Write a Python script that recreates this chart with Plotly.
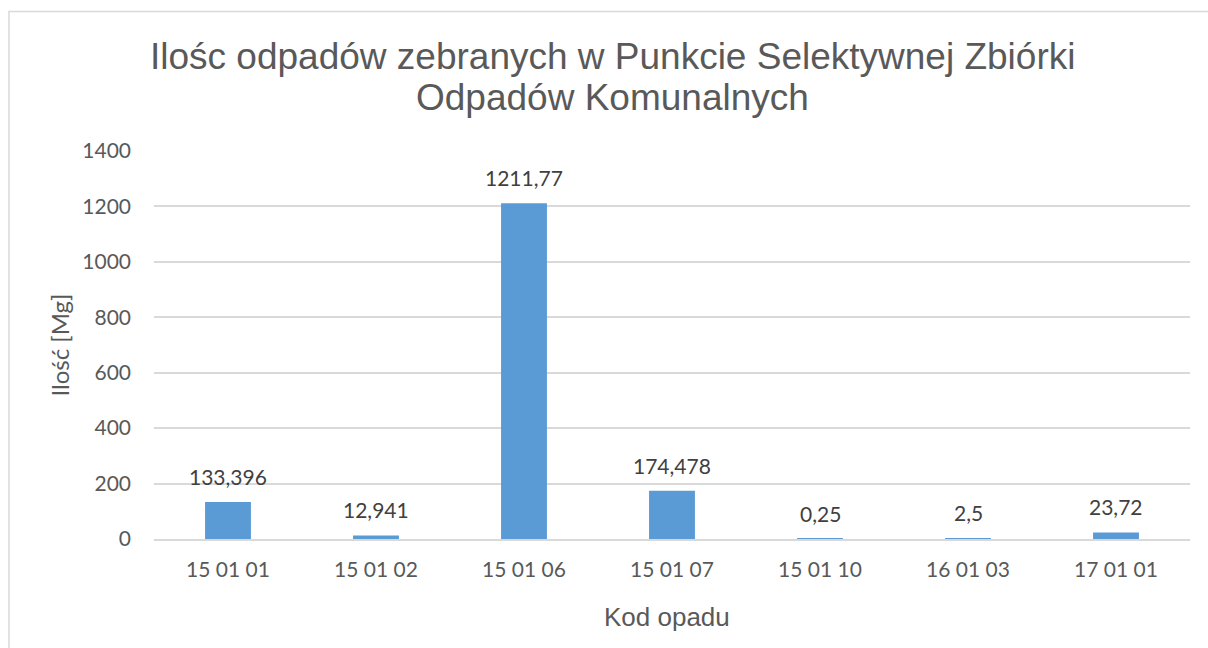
import plotly.graph_objects as go

categories = ["15 01 01", "15 01 02", "15 01 06", "15 01 07", "15 01 10", "16 01 03", "17 01 01"]
values = [133.396, 12.941, 1211.77, 174.478, 0.25, 2.5, 23.72]
labels = [str(v).replace(".", ",") for v in values]
y_ticks = [0, 200, 400, 600, 800, 1000, 1200, 1400]
title_lines = ["Ilośc odpadów zebranych w Punkcie Selektywnej Zbiórki", "Odpadów Komunalnych"]
x_title = "Kod opadu"
y_title = "Ilość [Mg]"

W, H = 1208, 648
L, R, T, B = 154, 18, 151, 109
pw, ph = W - L - R, H - T - B
plot_bottom = H - B

fig = go.Figure()
fig.add_trace(go.Bar(
    x=categories, y=values,
    marker=dict(color="#5b9bd5", line=dict(width=0)),
    hoverinfo="x+y",
))

for c, v, t in zip(categories, values, labels):
    fig.add_annotation(x=c, y=v, text=t, showarrow=False, yanchor="bottom", yshift=11,
                       font=dict(family="Lato, Open Sans, sans-serif", size=21, color="#404040"))

title_font = dict(family="Liberation Sans, Arial, sans-serif", size=37, color="#595959")
for line, fy in zip(title_lines, [56, 97]):
    fig.add_annotation(xref="paper", yref="paper", x=(612.5 - L) / pw, y=(plot_bottom - fy) / ph,
                       text=line, showarrow=False, xanchor="center", yanchor="middle", font=title_font)

fig.add_annotation(xref="paper", yref="paper", x=(667 - L) / pw, y=(plot_bottom - 617) / ph,
                   text=x_title, showarrow=False, xanchor="center", yanchor="middle",
                   font=dict(family="Liberation Sans, Arial, sans-serif", size=26, color="#595959"))

fig.add_shape(type="rect", xref="paper", yref="paper",
              x0=(9 - L) / pw, x1=(1220 - L) / pw,
              y0=-0.5, y1=(plot_bottom - 11.5) / ph,
              line=dict(color="#d9d9d9", width=1.5), fillcolor="rgba(0,0,0,0)", layer="below")

fig.update_layout(
    width=W, height=H,
    margin=dict(l=L, r=R, t=T, b=B),
    paper_bgcolor="white", plot_bgcolor="white",
    bargap=0.69,
    showlegend=False,
    xaxis=dict(
        tickfont=dict(family="Lato, Open Sans, sans-serif", size=21, color="#595959"),
        showgrid=False, showline=True, linecolor="#d9d9d9", linewidth=1.5,
        ticks="", ticklabelstandoff=11,
    ),
    yaxis=dict(
        title=dict(text=y_title, font=dict(family="Lato, Open Sans, sans-serif", size=24, color="#595959"), standoff=5),
        tickfont=dict(family="Lato, Open Sans, sans-serif", size=21, color="#595959"),
        range=[0, 1400], tickvals=y_ticks,
        showgrid=True, gridcolor="#d9d9d9", gridwidth=1.5,
        zeroline=False, showline=False, ticks="", ticklabelstandoff=22,
    ),
)

fig.write_html("out.html", config={"displayModeBar": False},
               post_script="document.body.style.margin='0';document.body.style.overflow='hidden';")
